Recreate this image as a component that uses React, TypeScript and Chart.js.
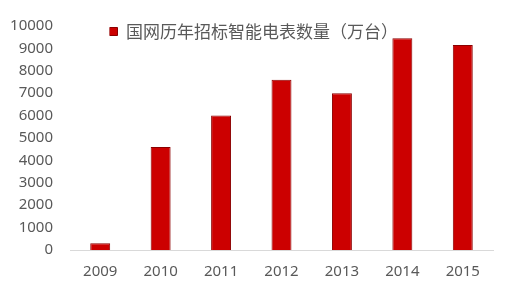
import { useEffect, useRef } from "react";
import { Chart, registerables } from "chart.js";

Chart.register(...registerables);

const categories = ["2009", "2010", "2011", "2012", "2013", "2014", "2015"];
const meterCounts = [300, 4600, 6000, 7600, 7000, 9450, 9150];
const seriesLabel = "国网历年招标智能电表数量（万台）";
const yMin = 0;
const yMax = 10000;
const yStep = 1000;

export default function App() {
  const ref = useRef<HTMLCanvasElement>(null);

  useEffect(() => {
    if (!ref.current) return;

    const legendPlacement = {
      id: "legendPlacement",
      beforeInit(chart: any) {
        const legend = chart.legend;
        if (!legend) return;
        const fit = legend.fit;
        legend.fit = function () {
          fit.call(this);
          this.height = 0;
        };
      },
      afterLayout(chart: any) {
        const l = chart.legend;
        if (!l) return;
        const left = chart.chartArea.left + 39.5;
        l.left = left;
        l.right = left + 320;
        l.top = 23;
        l.bottom = l.top + 22;
        l.width = l.right - l.left;
        l.height = l.bottom - l.top;
      },
    };

    const tickFont = { family: "'Noto Sans', 'DejaVu Sans', sans-serif", size: 15 };

    const chart = new Chart(ref.current, {
      type: "bar",
      data: {
        labels: categories,
        datasets: [
          {
            label: seriesLabel,
            data: meterCounts,
            backgroundColor: "#CC0000",
            borderColor: "#8B0000",
            borderWidth: 1,
            barPercentage: 0.33,
            categoryPercentage: 1,
          },
        ],
      },
      options: {
        responsive: false,
        animation: false,
        devicePixelRatio: 1,
        layout: { padding: { top: 23, right: 17, bottom: 0, left: 0 } },
        plugins: {
          legend: {
            display: true,
            position: "top",
            align: "start",
            labels: {
              boxWidth: 8,
              boxHeight: 8,
              padding: 0,
              color: "#595959",
              font: { family: "'Noto Sans CJK SC', sans-serif", size: 17 },
            },
          },
          tooltip: { enabled: false },
        },
        scales: {
          x: {
            grid: { display: false, drawTicks: false },
            border: { display: true, color: "#D9D9D9", width: 1 },
            ticks: { color: "#595959", font: tickFont, padding: 13 },
            afterFit(scale: any) {
              scale.height = 39;
            },
          },
          y: {
            min: yMin,
            max: yMax,
            grid: { display: false, drawTicks: false },
            border: { display: false },
            ticks: {
              stepSize: yStep,
              color: "#595959",
              font: tickFont,
              padding: 17,
              callback: (value: any) => String(value),
            },
            afterFit(scale: any) {
              scale.width = 70;
            },
          },
        },
      },
      plugins: [legendPlacement],
    });

    return () => chart.destroy();
  }, []);

  return (
    <div style={{ position: "fixed", left: 0, top: 0, width: 510, height: 289, background: "#fff" }}>
      <canvas ref={ref} width={510} height={289} style={{ display: "block" }} />
    </div>
  );
}
